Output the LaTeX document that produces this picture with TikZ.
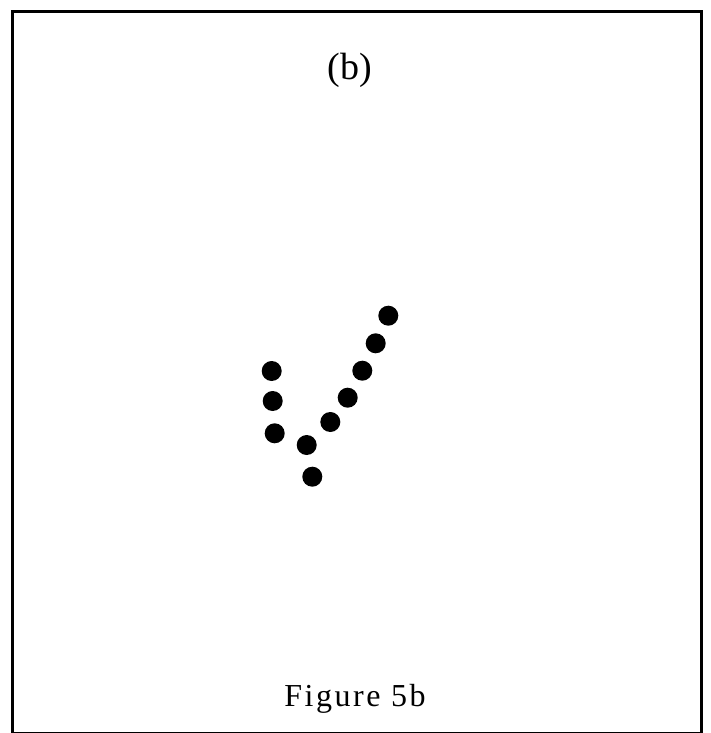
\documentclass[tikz,border=0pt]{standalone}
\usepackage{fontspec}
\setmainfont{Liberation Serif}
\usepackage{tikz}
\usetikzlibrary{positioning}
\tikzset{
  blob/.style={circle, fill=black, inner sep=0pt, minimum size=20pt},
  caption/.style={inner sep=0pt, anchor=base}
}

\begin{document}
\begin{tikzpicture}[x=1pt, y=-1pt]
        \useasboundingbox (0,0) rectangle (710,733);
        % Frame
        \draw[line width=3pt] (12.5,11.5) rectangle (701.5,733);
        % Title
        \node[caption, font=\fontsize{38}{40}\selectfont] (title) at (350,80) {(b)};
        % Dots of the tick
        \node[blob] (d1) at (388.3,315.7) {};
        \node[blob] (d2) at (375.7,343.3) {};
        \node[blob] (d3) at (362.3,370.7) {};
        \node[blob] (d4) at (347.7,397.7) {};
        \node[blob] (d5) at (330.3,422) {};
        \node[blob] (d6) at (306.7,445) {};
        \node[blob] (d7) at (312.3,476.7) {};
        \node[blob] (d8) at (271.7,371) {};
        \node[blob] (d9) at (272.7,401) {};
        \node[blob] (d10) at (274.7,433.3) {};
        % Caption
        \node[caption, font=\fontsize{32}{34}\selectfont\addfontfeatures{LetterSpace=8}] (fig) at (355,706) {Figure 5b};
    \end{tikzpicture}
\end{document}
